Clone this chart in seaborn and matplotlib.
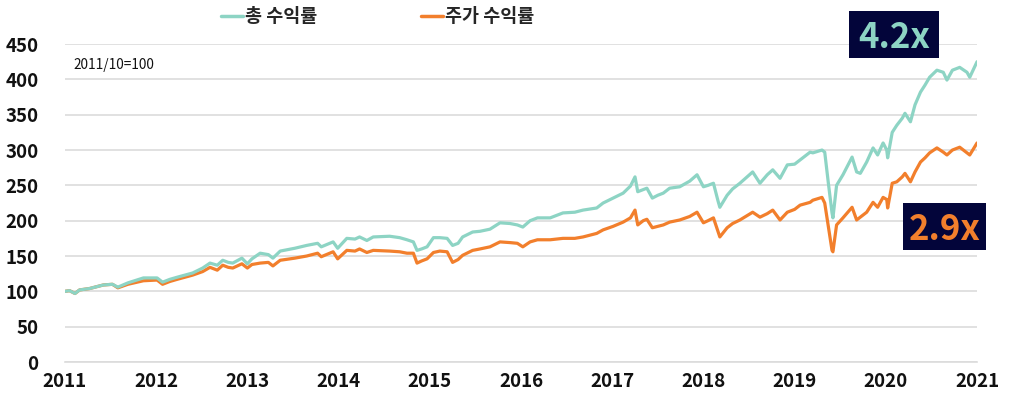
import matplotlib
matplotlib.use("Agg")
import matplotlib.pyplot as plt
from matplotlib.patches import Rectangle
from matplotlib.lines import Line2D
import seaborn as sns
import pandas as pd

# ---- data ----
# time as year fraction
t = [2011.00, 2011.05, 2011.11, 2011.16, 2011.27, 2011.42, 2011.52, 2011.58, 2011.69, 2011.86,
     2012.01, 2012.07, 2012.15, 2012.23, 2012.40, 2012.51, 2012.59, 2012.67, 2012.73, 2012.79,
     2012.84, 2012.94, 2013.00, 2013.05, 2013.14, 2013.23, 2013.28, 2013.36, 2013.52, 2013.65,
     2013.77, 2013.81, 2013.94, 2013.99, 2014.09, 2014.18, 2014.23, 2014.31, 2014.38, 2014.56,
     2014.67, 2014.75, 2014.82, 2014.86, 2014.91, 2014.97, 2015.04, 2015.11, 2015.19, 2015.25,
     2015.31, 2015.36, 2015.47, 2015.55, 2015.66, 2015.77, 2015.88, 2015.96, 2016.02, 2016.10,
     2016.18, 2016.32, 2016.46, 2016.59, 2016.68, 2016.83, 2016.90, 2017.01, 2017.12, 2017.20,
     2017.25, 2017.28, 2017.34, 2017.38, 2017.44, 2017.50, 2017.56, 2017.63, 2017.74, 2017.85,
     2017.93, 2018.00, 2018.05, 2018.11, 2018.16, 2018.18, 2018.26, 2018.32, 2018.40, 2018.54,
     2018.62, 2018.70, 2018.76, 2018.84, 2018.92, 2019.00, 2019.06, 2019.17, 2019.20, 2019.30,
     2019.33, 2019.37, 2019.41, 2019.42, 2019.46, 2019.53, 2019.63, 2019.68, 2019.72, 2019.79,
     2019.86, 2019.91, 2019.97, 2020.01, 2020.02, 2020.07, 2020.12, 2020.18, 2020.21, 2020.27,
     2020.32, 2020.38, 2020.43, 2020.48, 2020.56, 2020.63, 2020.67, 2020.73, 2020.81, 2020.89,
     2020.92, 2021.00]

total_return = [100, 101, 97, 102, 104, 109, 110, 106, 112, 119,
                119, 113, 117, 120, 126, 133, 140, 137, 144, 141,
                140, 147, 139, 146, 154, 152, 147, 157, 161, 165,
                168, 163, 170, 161, 175, 174, 177, 172, 177, 178,
                176, 173, 170, 158, 160, 163, 176, 176, 175, 165,
                168, 177, 184, 185, 188, 197, 196, 194, 191, 200,
                204, 204, 211, 212, 215, 218, 225, 232, 239, 249,
                262, 241, 244, 246, 232, 236, 239, 246, 248, 256,
                265, 248, 250, 253, 228, 219, 236, 245, 253, 269,
                253, 265, 272, 260, 279, 280, 286, 297, 296, 300,
                297, 253, 211, 204, 250, 265, 290, 269, 267, 283,
                303, 293, 310, 300, 289, 325, 335, 345, 352, 340,
                364, 382, 392, 403, 413, 410, 399, 413, 417, 410,
                403, 425]

price_return = [100, 101, 97, 102, 104, 109, 110, 105, 110, 115,
                116, 110, 114, 117, 123, 128, 134, 130, 137, 134,
                133, 139, 133, 138, 140, 141, 136, 144, 147, 150,
                154, 149, 156, 146, 158, 157, 160, 155, 158, 157,
                156, 154, 154, 140, 143, 146, 155, 157, 156, 141,
                145, 151, 158, 160, 163, 170, 169, 168, 163, 170,
                173, 173, 175, 175, 177, 182, 187, 192, 198, 204,
                215, 194, 200, 202, 190, 192, 194, 198, 201, 206,
                212, 197, 200, 204, 185, 177, 190, 196, 201, 212,
                205, 210, 215, 201, 212, 216, 222, 226, 229, 233,
                225, 191, 158, 156, 194, 204, 219, 201, 205, 212,
                226, 219, 233, 230, 218, 253, 255, 262, 267, 255,
                269, 283, 289, 296, 303, 297, 293, 300, 304, 296,
                293, 310]

series_names = ["총 수익률", "주가 수익률"]
year_ticks = list(range(2011, 2022))
y_ticks = list(range(0, 451, 50))
base_note = "2011/10=100"
badge_texts = ["4.2x", "2.9x"]

TEAL = "#8dd4c4"
ORANGE = "#f27f2c"
NAVY = "#03053a"

df = pd.DataFrame({
    "t": t * 2,
    "value": total_return + price_return,
    "series": [series_names[0]] * len(t) + [series_names[1]] * len(t),
})

sns.set_theme(style="white")
plt.rcParams["font.family"] = ["Noto Sans CJK KR", "DejaVu Sans"]

fig = plt.figure(figsize=(10.15, 3.95), dpi=100)
ax = fig.add_axes([0.064, 0.0835, 0.8986, 0.805])

sns.lineplot(data=df, x="t", y="value", hue="series",
             palette={series_names[0]: TEAL, series_names[1]: ORANGE},
             hue_order=[series_names[1], series_names[0]],
             linewidth=2.3, legend=False, ax=ax, sort=False)

ax.set_xlim(2011, 2021)
ax.set_ylim(0, 450)
ax.set_xticks(year_ticks)
ax.set_xticklabels([str(y) for y in year_ticks])
ax.set_yticks(y_ticks)
ax.set_xlabel("")
ax.set_ylabel("")

ax.grid(axis="y", color="#dcdcdc", linewidth=1.2)
ax.grid(axis="x", visible=False)
for s in ["top", "right", "left"]:
    ax.spines[s].set_visible(False)
ax.spines["bottom"].set_color("#dcdcdc")
ax.spines["bottom"].set_linewidth(1.2)
ax.tick_params(axis="x", length=5, width=1.2, color="#dcdcdc", pad=2,
               labelsize=13.5, labelcolor="#111111")
ax.tick_params(axis="y", length=0, pad=19, labelsize=13.5, labelcolor="#111111")
for lab in ax.get_xticklabels() + ax.get_yticklabels():
    lab.set_fontweight("bold")

ax.text(0.009, 0.933, base_note, transform=ax.transAxes, fontsize=9.8,
        color="#111111", ha="left", va="center", fontweight="medium")

handles = [Line2D([0], [0], color=TEAL, lw=2.5),
           Line2D([0], [0], color=ORANGE, lw=2.5)]
fig.legend(handles, series_names, loc="center", bbox_to_anchor=(0.372, 0.957),
           ncol=2, frameon=False, handlelength=1.2, handletextpad=0.1,
           columnspacing=5.6, prop={"size": 13.3, "weight": "bold"})

# annotation boxes
def badge(x0, y0, x1, y1, text, color):
    W, H = 1015, 395
    fig.patches.append(Rectangle((x0 / W, 1 - y1 / H), (x1 - x0) / W, (y1 - y0) / H,
                                 transform=fig.transFigure, facecolor=NAVY,
                                 edgecolor="none", zorder=5))
    fig.text((x0 + x1) / 2 / W, 1 - (y0 + y1) / 2 / H, text, color=color,
             fontsize=25, fontweight="bold", ha="center", va="center_baseline",
             zorder=6)

badge(849, 11, 939, 58, badge_texts[0], TEAL)
badge(903, 203, 986, 250, badge_texts[1], ORANGE)

fig.savefig("out.png", dpi=100)
